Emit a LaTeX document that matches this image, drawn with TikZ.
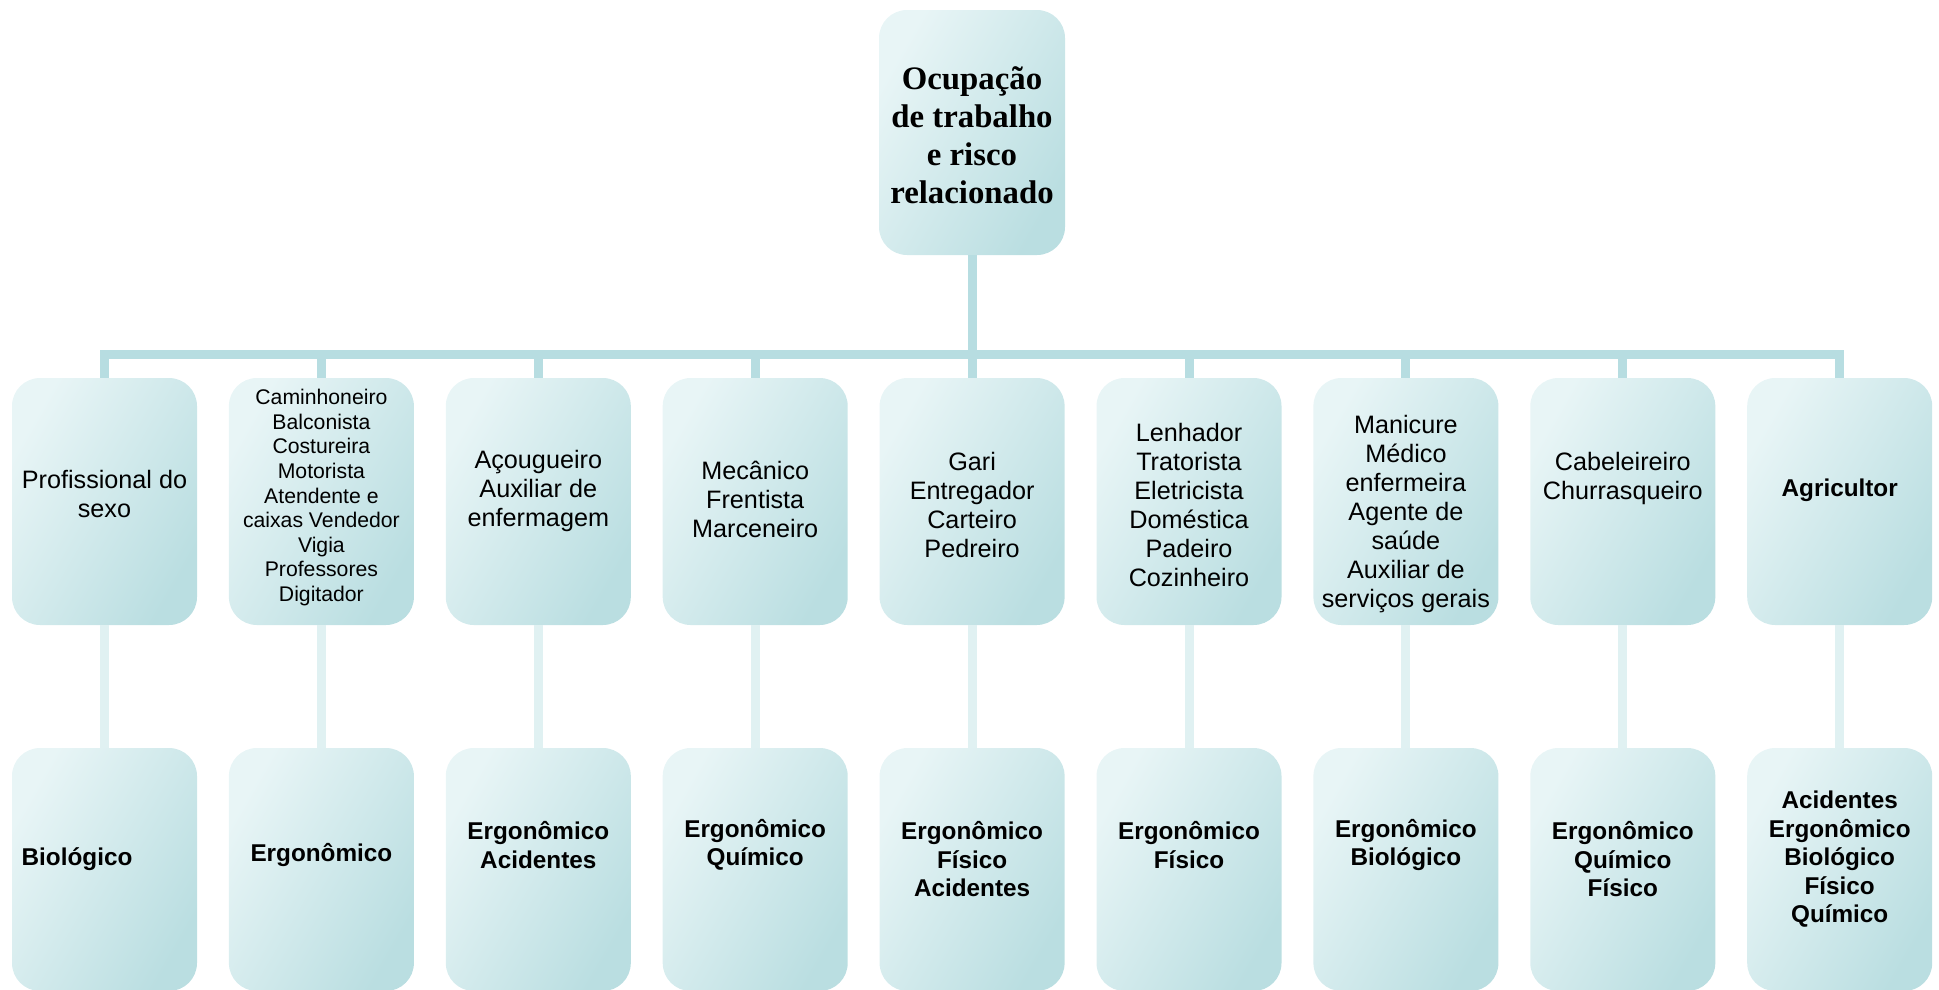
\documentclass[tikz,border=0pt]{standalone}
\usepackage{fontspec}
\setmainfont{Liberation Sans}
\newfontfamily\timesfont{Liberation Serif}
\definecolor{boxlight}{HTML}{E8F5F6}
\definecolor{boxmid}{HTML}{E0F1F2}
\definecolor{boxdark}{HTML}{BADEE1}
\definecolor{barcol}{HTML}{B7DDE1}
\definecolor{lowcol}{HTML}{E0F1F2}
\begin{document}
\begin{tikzpicture}[x=1pt,y=-1pt,
  box/.style={rounded corners=28pt, top color=boxlight, middle color=boxmid, bottom color=boxdark,
    shading angle=60, minimum width=185pt, minimum height=247pt, inner sep=0pt, draw=none},
  lowbox/.style={box, minimum height=243pt},
  midtxt/.style={align=center, font=\fontsize{25.2}{29}\selectfont, inner sep=0pt},
  smalltxt/.style={align=center, font=\fontsize{21.2}{24.6}\selectfont, inner sep=0pt},
  boldtxt/.style={align=center, font=\fontsize{24.3}{28.5}\selectfont\bfseries, inner sep=0pt},
  toptxt/.style={align=center, font=\timesfont\bfseries\fontsize{32.8}{38}\selectfont, inner sep=0pt},
  barline/.style={draw=barcol, line width=9pt},
  lowline/.style={draw=lowcol, line width=9pt}]
\useasboundingbox (0,0) rectangle (1939,989);

% top
\node[box, minimum width=186pt, minimum height=245pt,
  label={[toptxt,yshift=-3pt]center:Ocupação\\de trabalho\\e risco\\relacionado}] (top) at (972,132.5) {};

% middle row
\node[box, label={[midtxt,yshift=7.5pt]center:Profissional do\\sexo}] (m0) at (104.5,501.5) {};
\node[box, label={[smalltxt,yshift=3.8pt]center:Caminhoneiro\\Balconista\\Costureira\\Motorista\\Atendente e\\caixas Vendedor\\Vigia\\Professores\\Digitador}] (m1) at (321.4,501.5) {};
\node[box, label={[midtxt,yshift=10.5pt]center:Açougueiro\\Auxiliar de\\enfermagem}] (m2) at (538.3,501.5) {};
\node[box, label={[midtxt,yshift=2.5pt]center:Mecânico\\Frentista\\Marceneiro}] (m3) at (755.2,501.5) {};
\node[box, label={[midtxt,yshift=-3pt]center:Gari\\Entregador\\Carteiro\\Pedreiro}] (m4) at (972.1,501.5) {};
\node[box, label={[midtxt,yshift=-3pt]center:Lenhador\\Tratorista\\Eletricista\\Doméstica\\Padeiro\\Cozinheiro}] (m5) at (1189,501.5) {};
\node[box, label={[midtxt,yshift=-12.5pt]center:Manicure\\Médico\\enfermeira\\Agente de\\saúde\\Auxiliar de\\serviços gerais}] (m6) at (1405.9,501.5) {};
\node[box, label={[midtxt,yshift=23.5pt]center:Cabeleireiro\\Churrasqueiro}] (m7) at (1622.8,501.5) {};
\node[box, label={[boldtxt,yshift=11.5pt]center:Agricultor}] (m8) at (1839.7,501.5) {};

% bottom row
\node[lowbox, label={[boldtxt,yshift=10pt,xshift=-27.5pt]center:Biológico}] (b0) at (104.5,869.5) {};
\node[lowbox, label={[boldtxt,yshift=15pt]center:Ergonômico}] (b1) at (321.4,869.5) {};
\node[lowbox, label={[boldtxt,yshift=24.5pt]center:Ergonômico\\Acidentes}] (b2) at (538.3,869.5) {};
\node[lowbox, label={[boldtxt,yshift=24.5pt]center:Ergonômico\\Químico}] (b3) at (755.2,869.5) {};
\node[lowbox, label={[boldtxt,yshift=10pt]center:Ergonômico\\Físico\\Acidentes}] (b4) at (972.1,869.5) {};
\node[lowbox, label={[boldtxt,yshift=24.5pt]center:Ergonômico\\Físico}] (b5) at (1189,869.5) {};
\node[lowbox, label={[boldtxt,yshift=24.5pt]center:Ergonômico\\Biológico}] (b6) at (1405.9,869.5) {};
\node[lowbox, label={[boldtxt,yshift=10pt]center:Ergonômico\\Químico\\Físico}] (b7) at (1622.8,869.5) {};
\node[lowbox, label={[boldtxt,yshift=10pt]center:Acidentes\\Ergonômico\\Biológico\\Físico\\Químico}] (b8) at (1839.7,869.5) {};

% connectors
\coordinate (barmid) at (972,354);
\foreach \i in {0,...,8} {
  \draw[barline] (top.south) |- (barmid) -| (m\i.north);
  \draw[lowline] (m\i.south) -- (b\i.north);
}
\end{tikzpicture}
\end{document}
